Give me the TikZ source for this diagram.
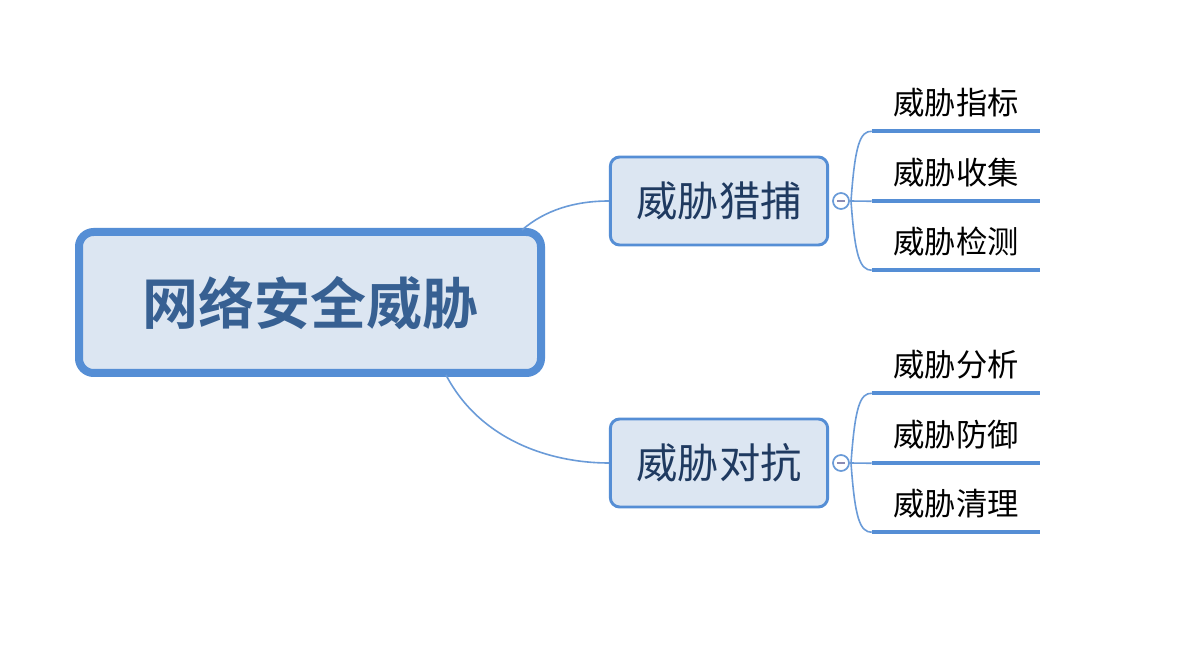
\documentclass[tikz,border=0pt]{standalone}
\usepackage{fontspec}
\newfontfamily\cjk{Noto Sans CJK SC}
\newfontfamily\cjkb{Noto Sans CJK SC Bold}
\definecolor{bordblue}{HTML}{558ED5}
\definecolor{fillblue}{HTML}{DCE6F2}
\definecolor{roottext}{HTML}{376092}
\definecolor{branchtext}{HTML}{1F3A60}
\definecolor{linkblue}{HTML}{6A9BD8}
\definecolor{minuscol}{HTML}{8C8CB4}
\begin{document}
\begin{tikzpicture}[x=0.75pt,y=-0.75pt,
  rootbox/.style={draw=bordblue,fill=fillblue,line width=6pt,rounded corners=11pt,
    minimum width=346.5pt,minimum height=105.75pt,inner sep=0pt,
    font=\cjkb\fontsize{42}{50}\selectfont,text=roottext},
  branchbox/.style={draw=bordblue,fill=fillblue,line width=2.2pt,rounded corners=7pt,
    minimum width=163pt,minimum height=66pt,inner sep=0pt,
    font=\cjk\fontsize{31}{36}\selectfont,text=branchtext},
  leafnode/.style={minimum width=126pt,minimum height=42pt,inner sep=0pt,
    font=\cjk\fontsize{23.5}{28}\selectfont,text=black},
  underline/.style={draw=bordblue,line width=3pt},
  link/.style={draw=linkblue,line width=1.2pt},
  toggle/.style={circle,draw=linkblue,fill=white,line width=1.3pt,minimum size=12pt,inner sep=0pt}
]
\useasboundingbox (0,0) rectangle (1200,645);
\fill[white] (0,0) rectangle (1200,645);

\coordinate (r1) at (522,230);
\coordinate (r2) at (446,375);

\node[rootbox] (root) at (310,302.5) {网络安全威胁};
\node[branchbox] (b1) at (719,201) {威胁猎捕};
\node[branchbox] (b2) at (719,463) {威胁对抗};

\draw[link] (r1) .. controls (545,210) and (575,201) .. (b1.west);
\draw[link] (r2) .. controls (480,440) and (550,463) .. (b2.west);

% toggles
\node[toggle] (c1) at (841,201) {};
\node[toggle] (c2) at (841,463) {};
\draw[minuscol,line width=1.4pt] ([xshift=-3pt]c1.center) -- ([xshift=3pt]c1.center);
\draw[minuscol,line width=1.4pt] ([xshift=-3pt]c2.center) -- ([xshift=3pt]c2.center);

% leaves
\node[leafnode] (l1) at (956,103) {威胁指标};
\node[leafnode] (l2) at (956,173) {威胁收集};
\node[leafnode] (l3) at (956,242) {威胁检测};
\node[leafnode] (l4) at (956,365) {威胁分析};
\node[leafnode] (l5) at (956,435) {威胁防御};
\node[leafnode] (l6) at (956,504) {威胁清理};
\foreach \l in {l1,l2,l3,l4,l5,l6}{
  \draw[underline] (\l.south west) -- (\l.south east);
}

% leaf links
\coordinate (s1) at (851,201);
\coordinate (s2) at (851,463);
\draw[link] (c1.east) -- (l2.south west);
\draw[link] (s1) .. controls (855,145) and (860,131) .. (l1.south west);
\draw[link] (s1) .. controls (855,257) and (860,270) .. (l3.south west);
\draw[link] (c2.east) -- (l5.south west);
\draw[link] (s2) .. controls (855,407) and (860,393) .. (l4.south west);
\draw[link] (s2) .. controls (855,519) and (860,532) .. (l6.south west);
\end{tikzpicture}
\end{document}
